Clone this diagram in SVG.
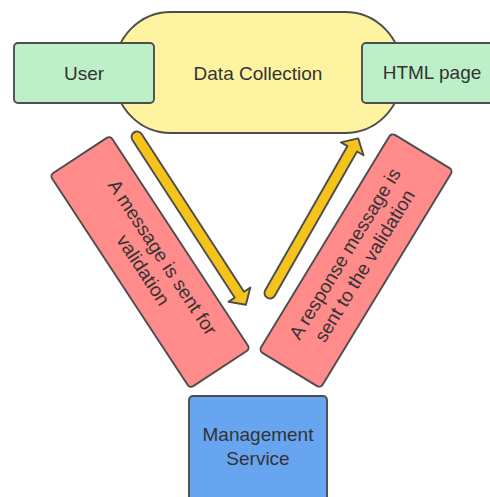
<svg xmlns="http://www.w3.org/2000/svg" width="490" height="497" viewBox="0 0 490 497">
  <style>
    .shape { stroke: #4d4d4d; stroke-width: 1.9; }
    .green { fill: #bdf0c9; }
    .yellow { fill: #fdf3a1; }
    .pink { fill: #ff8b8b; }
    .blue { fill: #68a5f1; }
    .arrow { fill: #f5c31a; stroke: #4d4d4d; stroke-width: 1.9; stroke-linejoin: round; }
    .label { font-family: "Liberation Sans", Arial, sans-serif; font-size: 19px; fill: #333333; text-anchor: middle; dominant-baseline: central; }
  </style>
  <rect width="490" height="497" fill="#ffffff"/>

  <g id="data-collection">
    <rect class="shape yellow" x="115" y="12" width="286" height="121" rx="56" ry="56"/>
    <text class="label" x="258" y="73">Data Collection</text>
  </g>

  <g id="user">
    <rect class="shape green" x="14" y="43" width="140" height="60" rx="4"/>
    <text class="label" x="84" y="73">User</text>
  </g>

  <g id="html-page">
    <rect class="shape green" x="362" y="43" width="134" height="60" rx="4"/>
    <text class="label" x="432" y="72">HTML page</text>
  </g>

  <g id="message-sent">
    <g transform="translate(150,262) rotate(56.7)">
      <rect class="shape pink" x="-127.5" y="-36" width="255" height="72" rx="4"/>
      <text class="label" x="3" y="-13">A message is sent for</text>
      <text class="label" x="3" y="10">validation</text>
    </g>
  </g>

  <g id="response-message">
    <g transform="translate(356,260.5) rotate(-58.7)">
      <rect class="shape pink" x="-127.5" y="-36" width="255" height="72" rx="4"/>
      <text class="label" x="0" y="-13">A response message is</text>
      <text class="label" x="0" y="10">sent to the validation</text>
    </g>
  </g>

  <g id="management-service">
    <rect class="shape blue" x="189" y="396" width="138" height="106" rx="4"/>
    <text class="label" x="258" y="434">Management</text>
    <text class="label" x="258" y="458">Service</text>
  </g>

  <g id="connectors">
    <path class="arrow" transform="translate(137,137) rotate(57)" d="M0,-5.5 L188,-5.5 L188,-13 L200,0 L188,13 L188,5.5 L0,5.5 A5.5,5.5 0 0 1 0,-5.5 Z"/>
    <path class="arrow" transform="translate(270,293) rotate(-60.3)" d="M0,-5.5 L166,-5.5 L166,-13 L178,0 L166,13 L166,5.5 L0,5.5 A5.5,5.5 0 0 1 0,-5.5 Z"/>
  </g>
</svg>
